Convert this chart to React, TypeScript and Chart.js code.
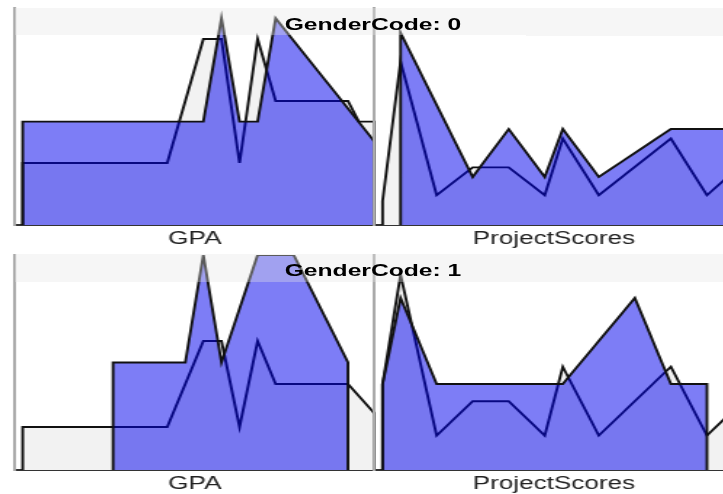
import React, { useEffect, useRef } from "react";
import { Chart, registerables } from "chart.js";

Chart.register(...registerables);

// ---------- data ----------
// GenderCode 0 – GPA
const G0_GPA_GROUP_X = [2.0, 2.0, 3.0, 3.1, 3.2, 3.3, 3.4, 3.95, 3.95];
const G0_GPA_GROUP_Y = [0, 1, 1, 2, 1, 1, 2, 0.8, 0];
const G0_GPA_ALL_X = [2.0, 2.0, 2.8, 3.0, 3.1, 3.2, 3.3, 3.4, 3.8, 3.86, 3.95, 3.95];
const G0_GPA_ALL_Y = [0, 0.6, 0.6, 1.8, 1.8, 0.6, 1.8, 1.2, 1.2, 1.0, 1.0, 0];

// GenderCode 0 – ProjectScores
const G0_PS_GROUP_X = [81, 81, 85, 87, 89, 90, 92, 96, 99.45, 99.45];
const G0_PS_GROUP_Y = [0, 4, 1, 2, 1, 2, 1, 2, 2, 0];
const G0_PS_ALL_X = [80, 80, 81, 83, 85, 87, 89, 90, 92, 96, 98, 99, 99.45, 99.45];
const G0_PS_ALL_Y = [0, 0.5, 3.4, 0.62, 1.2, 1.2, 0.62, 1.8, 0.62, 1.8, 0.62, 0.95, 1.1, 0];

// GenderCode 1 – GPA
const G1_GPA_GROUP_X = [2.5, 2.5, 2.9, 3.0, 3.1, 3.3, 3.5, 3.8, 3.8];
const G1_GPA_GROUP_Y = [0, 1, 1, 2, 1, 2, 2, 1, 0];
const G1_GPA_ALL_X = [2.0, 2.0, 2.8, 3.0, 3.1, 3.2, 3.3, 3.4, 3.8, 3.95, 3.95];
const G1_GPA_ALL_Y = [0, 0.4, 0.4, 1.2, 1.2, 0.4, 1.2, 0.8, 0.8, 0.52, 0];

// GenderCode 1 – ProjectScores
const G1_PS_GROUP_X = [80, 80, 81, 83, 90, 94, 96, 98, 98];
const G1_PS_GROUP_Y = [0, 1, 2, 1, 1, 2, 1, 1, 0];
const G1_PS_ALL_X = [80, 80, 81, 83, 85, 87, 89, 90, 92, 96, 98, 99, 99.45, 99.45];
const G1_PS_ALL_Y = [0, 1.0, 2.27, 0.4, 0.8, 0.8, 0.4, 1.2, 0.4, 1.2, 0.4, 0.6, 0.7, 0];

const GROUP_TITLES = ["GenderCode: 0", "GenderCode: 1"];
const AXIS_TITLES = ["GPA", "ProjectScores"];
const GPA_RANGE = [1.955, 3.952];
const PS_RANGE = [79.53, 99.48];
const ROW_YMAX = [
  [2.1, 4.52],
  [2.0, 2.5],
];

// ---------- layout / style ----------
const STRETCH = 1.45;
const U = (p: number) => p / STRETCH;
const PLOT_W = 359.5;
const PANEL_LEFT = [14, 373.5];
const PAD_L = 4;
const PAD_R = 3;
const PAD_T = 3;
const AXIS_H = 30;
const ROWS = [
  { plotTop: 8, plotBottom: 225, bandTop: 8, bandH: 27 },
  { plotTop: 255, plotBottom: 470, bandTop: 254, bandH: 28 },
];
const BLUE = "rgba(0,0,238,0.51)";
const GREY = "rgb(242,242,242)";
const FONT = "'Liberation Sans', Arial, sans-serif";

type PanelProps = {
  left: number;
  top: number;
  height: number;
  xRange: number[];
  yMax: number;
  title: string;
  gx: number[];
  gy: number[];
  ax: number[];
  ay: number[];
};

function Panel(p: PanelProps) {
  const ref = useRef<HTMLCanvasElement | null>(null);
  useEffect(() => {
    if (!ref.current) return;
    const line = {
      fill: "origin" as const,
      borderColor: "#111",
      borderWidth: 1.9,
      pointRadius: 0,
      tension: 0,
      borderJoinStyle: "miter" as const,
    };
    const chart = new Chart(ref.current, {
      type: "line",
      data: {
        datasets: [
          {
            ...line,
            label: "group",
            data: p.gx.map((x, i) => ({ x, y: p.gy[i] })),
            backgroundColor: BLUE,
            order: 0,
          },
          {
            ...line,
            label: "all",
            data: p.ax.map((x, i) => ({ x, y: p.ay[i] })),
            backgroundColor: GREY,
            order: 1,
          },
        ],
      },
      options: {
        animation: false,
        responsive: true,
        maintainAspectRatio: false,
        events: [],
        layout: { padding: { left: PAD_L, right: PAD_R, top: PAD_T, bottom: 0 } },
        plugins: { legend: { display: false }, tooltip: { enabled: false } },
        scales: {
          x: {
            type: "linear",
            min: p.xRange[0],
            max: p.xRange[1],
            ticks: { display: false },
            grid: { display: false, drawTicks: false },
            border: { display: true, color: "#333", width: 2 },
            title: {
              display: true,
              text: p.title,
              color: "#222",
              font: { family: FONT, size: 18 },
              padding: { top: 0, bottom: 5 },
            },
            afterFit: (s: any) => {
              s.height = AXIS_H;
            },
          },
          y: {
            type: "linear",
            min: 0,
            max: p.yMax,
            ticks: { display: false },
            grid: { display: false, drawTicks: false },
            border: { display: true, color: "#aaa", width: 2 },
            afterFit: (s: any) => {
              s.width = 0;
            },
          },
        },
      },
    });
    return () => chart.destroy();
  }, []);
  return (
    <div
      style={{
        position: "absolute",
        left: U(p.left) - PAD_L,
        top: p.top,
        width: U(PLOT_W) + PAD_L + PAD_R,
        height: p.height,
      }}
    >
      <canvas ref={ref} />
    </div>
  );
}

export default function App() {
  const data = [
    [
      [G0_GPA_GROUP_X, G0_GPA_GROUP_Y, G0_GPA_ALL_X, G0_GPA_ALL_Y],
      [G0_PS_GROUP_X, G0_PS_GROUP_Y, G0_PS_ALL_X, G0_PS_ALL_Y],
    ],
    [
      [G1_GPA_GROUP_X, G1_GPA_GROUP_Y, G1_GPA_ALL_X, G1_GPA_ALL_Y],
      [G1_PS_GROUP_X, G1_PS_GROUP_Y, G1_PS_ALL_X, G1_PS_ALL_Y],
    ],
  ];
  const ranges = [GPA_RANGE, PS_RANGE];
  return (
    <div
      style={{
        position: "fixed",
        left: 0,
        top: 0,
        width: 723,
        height: 494,
        overflow: "hidden",
        background: "#fff",
      }}
    >
      <div
        style={{
          position: "absolute",
          left: 0,
          top: 0,
          width: U(740),
          height: 494,
          transform: `scaleX(${STRETCH})`,
          transformOrigin: "0 0",
        }}
      >
        {ROWS.map((row, r) => (
          <React.Fragment key={r}>
            {[0, 1].map((c) => (
              <Panel
                key={c}
                left={PANEL_LEFT[c]}
                top={row.plotTop - PAD_T}
                height={row.plotBottom - row.plotTop + PAD_T + AXIS_H}
                xRange={ranges[c]}
                yMax={ROW_YMAX[r][c]}
                title={AXIS_TITLES[c]}
                gx={data[r][c][0]}
                gy={data[r][c][1]}
                ax={data[r][c][2]}
                ay={data[r][c][3]}
              />
            ))}
            <div
              style={{
                position: "absolute",
                left: U(14),
                top: row.bandTop,
                width: U(732 - 14),
                height: row.bandH,
                background: "rgba(228,228,228,0.35)",
                zIndex: 2,
              }}
            >
              <div
                style={{
                  position: "absolute",
                  left: 0,
                  right: 0,
                  top: 7,
                  lineHeight: `${row.bandH}px`,
                  textAlign: "center",
                  font: `bold 17px ${FONT}`,
                  color: "#000",
                  whiteSpace: "nowrap",
                }}
              >
                {GROUP_TITLES[r]}
              </div>
            </div>
          </React.Fragment>
        ))}
      </div>
    </div>
  );
}
